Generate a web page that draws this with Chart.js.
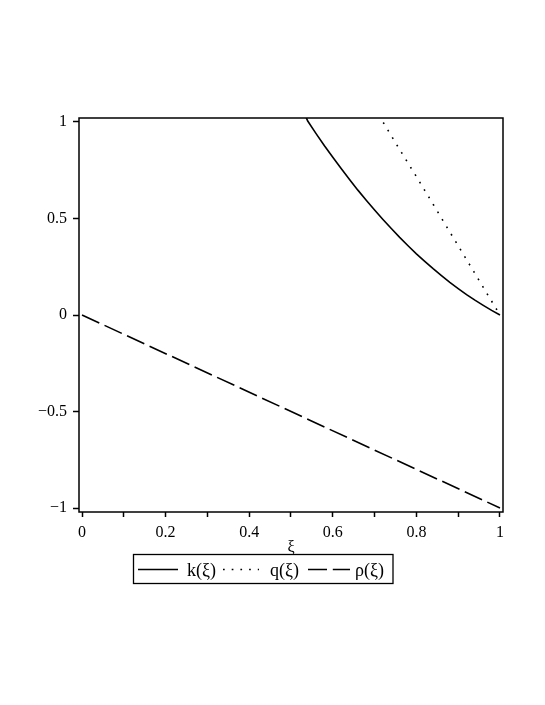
<!DOCTYPE html>
<html>
<head>
<meta charset="utf-8">
<script src="https://cdn.jsdelivr.net/npm/chart.js@4.4.0/dist/chart.umd.min.js"></script>
<style>
  html, body { margin: 0; padding: 0; background: #fff; }
  #wrap { width: 545px; height: 705px; }
</style>
</head>
<body>
<div id="wrap"><canvas id="chart" width="545" height="705"></canvas></div>
<script>
// --- dados ---
const xiK = [0.535, 0.54, 0.56, 0.58, 0.60, 0.62, 0.64, 0.66, 0.68, 0.70, 0.72, 0.74, 0.76, 0.78, 0.80, 0.82, 0.84, 0.86, 0.88, 0.90, 0.92, 0.94, 0.96, 0.98, 1.00];
const kVals = [1.03, 1.005, 0.94, 0.877, 0.817, 0.759, 0.702, 0.647, 0.595, 0.544, 0.495, 0.448, 0.402, 0.359, 0.317, 0.278, 0.240, 0.204, 0.169, 0.137, 0.106, 0.077, 0.050, 0.024, 0.0];

const xiQ = [0.71, 0.72, 0.76, 0.80, 0.84, 0.88, 0.92, 0.96, 1.00];
const qVals = [1.036, 1.0, 0.857, 0.717, 0.574, 0.43, 0.287, 0.143, 0.0];

const xiRho = [0, 1];
const rhoVals = [0, -1];

const seriesLabels = ['k(ξ)', 'q(ξ)', 'ρ(ξ)'];
const xTitle = 'ξ';

const xTicks = [0, 0.1, 0.2, 0.3, 0.4, 0.5, 0.6, 0.7, 0.8, 0.9, 1];
const xLabels = [0, 0.2, 0.4, 0.6, 0.8, 1];
const yTicks = [-1, -0.5, 0, 0.5, 1];

const FONT = "'Liberation Serif', 'Times New Roman', serif";
const toPoints = (xs, ys) => xs.map((x, i) => ({ x, y: ys[i] }));
const fmt = (v) => String(v).replace('-', '\u2212');

// moldura em volta da área do gráfico
const framePlugin = {
  id: 'frame',
  afterDraw(chart) {
    const { ctx, chartArea: a } = chart;
    ctx.save();
    ctx.strokeStyle = '#000';
    ctx.lineWidth = 1.5;
    ctx.strokeRect(a.left, a.top, a.right - a.left, a.bottom - a.top);
    ctx.restore();
  }
};

// legenda em caixa, abaixo do eixo x
const boxLegendPlugin = {
  id: 'boxLegend',
  afterDraw(chart) {
    const { ctx } = chart;
    const box = { left: 133.5, top: 554.5, width: 259.5, height: 29 };
    const sampleStart = [138, 223, 308];
    const sampleLen = [40, 36, 42];
    const textX = [187, 270, 355];
    const yMid = 569.5;
    ctx.save();
    ctx.strokeStyle = '#000';
    ctx.lineWidth = 1.3;
    ctx.strokeRect(box.left, box.top, box.width, box.height);
    ctx.font = `18px ${FONT}`;
    ctx.fillStyle = '#000';
    ctx.textBaseline = 'middle';
    chart.data.datasets.forEach((ds, i) => {
      ctx.beginPath();
      ctx.setLineDash(ds.borderDash || []);
      ctx.lineWidth = ds.borderWidth;
      ctx.moveTo(sampleStart[i], yMid);
      ctx.lineTo(sampleStart[i] + sampleLen[i], yMid);
      ctx.stroke();
      ctx.setLineDash([]);
      ctx.fillText(ds.label, textX[i], yMid + 1.5);
    });
    ctx.restore();
  }
};

const baseLine = { showLine: true, pointRadius: 0, borderColor: '#000', borderWidth: 1.6, fill: false, tension: 0 };

new Chart(document.getElementById('chart'), {
  type: 'scatter',
  data: {
    datasets: [
      { ...baseLine, label: seriesLabels[0], data: toPoints(xiK, kVals) },
      { ...baseLine, label: seriesLabels[1], data: toPoints(xiQ, qVals), borderDash: [1.7, 7] },
      { ...baseLine, label: seriesLabels[2], data: toPoints(xiRho, rhoVals), borderDash: [19, 5.8] }
    ]
  },
  options: {
    responsive: false,
    animation: false,
    devicePixelRatio: 1,
    layout: { padding: { left: 0, top: 118, right: 42, bottom: 148 } },
    plugins: { legend: { display: false }, tooltip: { enabled: false } },
    scales: {
      x: {
        type: 'linear',
        min: -0.0072, max: 1.0072,
        afterBuildTicks: (s) => { s.ticks = xTicks.map(v => ({ value: v })); },
        afterFit: (s) => { s.height = 45; },
        border: { display: false },
        grid: { drawOnChartArea: false, drawTicks: true, tickLength: 5, tickWidth: 1.5, tickColor: '#000' },
        ticks: {
          autoSkip: false, maxRotation: 0, padding: 6, color: '#000',
          font: { family: FONT, size: 16 },
          callback: (v) => xLabels.some(l => Math.abs(l - v) < 1e-9) ? fmt(Math.round(v * 10) / 10) : ''
        },
        title: { display: true, text: xTitle, color: '#000', font: { family: FONT, size: 16 }, padding: { top: 0, bottom: 0 } }
      },
      y: {
        min: -1.0207, max: 1.0207,
        afterBuildTicks: (s) => { s.ticks = yTicks.map(v => ({ value: v })); },
        afterFit: (s) => { s.width = 79; },
        border: { display: false },
        grid: { drawOnChartArea: false, drawTicks: true, tickLength: 6, tickWidth: 1.5, tickColor: '#000' },
        ticks: {
          padding: 6, color: '#000',
          font: { family: FONT, size: 16 },
          callback: (v) => fmt(v)
        }
      }
    }
  },
  plugins: [framePlugin, boxLegendPlugin]
});
</script>
</body>
</html>
